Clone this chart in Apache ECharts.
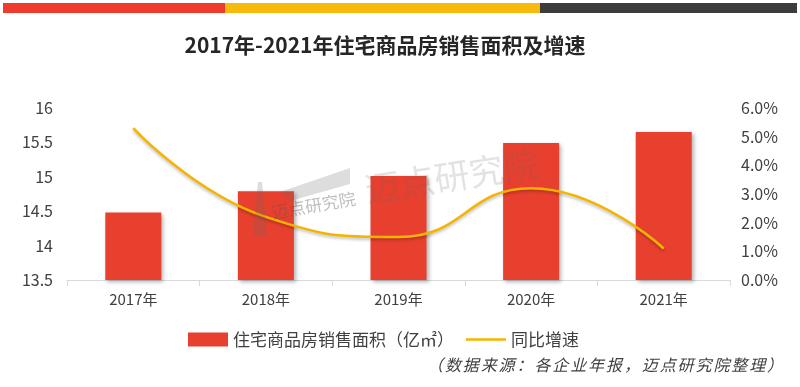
<!DOCTYPE html>
<html><head><meta charset="utf-8">
<script src="https://cdn.jsdelivr.net/npm/echarts@6/dist/echarts.min.js"></script>
<style>html,body{margin:0;padding:0;background:#fff}#c{width:800px;height:387px}</style>
</head><body><div id="c"></div>
<script>
const categories = ['2017年','2018年','2019年','2020年','2021年'];
const areaValues = [14.48, 14.79, 15.01, 15.49, 15.65];
const growthValues = [5.3, 2.2, 1.5, 3.2, 1.1];
const leftTicks = {min: 13.5, max: 16, interval: 0.5};
const rightTicks = {min: 0, max: 6, interval: 1};
const FONT = '"Noto Sans CJK SC", "Noto Sans", sans-serif';

const chart = echarts.init(document.getElementById('c'), null, {renderer: 'canvas'});
chart.setOption({
  animation: false,
  backgroundColor: '#fff',
  textStyle: {fontFamily: FONT},
  title: {
    text: '2017年-2021年住宅商品房销售面积及增速',
    left: 380, textAlign: 'center', top: 30,
    textStyle: {fontSize: 21, fontWeight: 'bold', color: '#262626', fontFamily: FONT}
  },
  graphic: [
    {type: 'rect', shape: {x: 3, y: 3, width: 222, height: 10}, style: {fill: '#EE3B2E'}},
    {type: 'rect', shape: {x: 225, y: 3, width: 315, height: 10}, style: {fill: '#F7BA0B'}},
    {type: 'rect', shape: {x: 540, y: 3, width: 257, height: 10}, style: {fill: '#3C3C3C'}},
    {type: 'polygon', z: 100, shape: {points: [[280, 192], [350, 168], [350, 184], [290, 201]]}, style: {fill: 'rgba(100,100,100,0.22)'}},
    {type: 'polygon', z: 100, shape: {points: [[258, 182], [262, 182], [267, 236], [253, 236]]}, style: {fill: 'rgba(100,100,100,0.22)'}},
    {type: 'text', z: 100, x: 273, y: 221, rotation: 0.17, style: {text: '迈点研究院', font: '17px ' + FONT, fill: 'rgba(90,90,90,0.4)', textVerticalAlign: 'bottom'}},
    {type: 'text', z: 100, x: 368, y: 207, rotation: 0.155, style: {text: '迈点研究院', font: '35px ' + FONT, fill: 'rgba(100,100,100,0.18)', textVerticalAlign: 'bottom'}}
  ],
  legend: {
    left: 183, top: 326, itemGap: 12,
    itemWidth: 40, itemHeight: 14,
    textStyle: {fontSize: 17, color: '#404040', fontFamily: FONT},
    data: [
      {name: '住宅商品房销售面积（亿㎡）', icon: 'rect'},
      {name: '同比增速', icon: 'path://M0,0L40,0L40,2.5L0,2.5Z'}
    ]
  },
  grid: {left: 67, right: 70, top: 108, bottom: 107},
  xAxis: {
    type: 'category', data: categories,
    axisLine: {lineStyle: {color: '#d9d9d9', width: 1}},
    axisTick: {show: true, alignWithLabel: false, length: 6, lineStyle: {color: '#d9d9d9'}},
    axisLabel: {fontSize: 15, color: '#404040', margin: 12, fontFamily: FONT}
  },
  yAxis: [
    {
      type: 'value', min: leftTicks.min, max: leftTicks.max, interval: leftTicks.interval,
      splitLine: {show: false}, axisLine: {show: false}, axisTick: {show: false},
      axisLabel: {fontSize: 16, color: '#404040', margin: 14, fontFamily: FONT}
    },
    {
      type: 'value', min: rightTicks.min, max: rightTicks.max, interval: rightTicks.interval,
      splitLine: {show: false}, axisLine: {show: false}, axisTick: {show: false},
      axisLabel: {fontSize: 16, color: '#404040', margin: 11, fontFamily: FONT,
        formatter: v => v.toFixed(1) + '%'}
    }
  ],
  series: [
    {
      name: '住宅商品房销售面积（亿㎡）', type: 'bar', data: areaValues, barWidth: 56, z: 2,
      itemStyle: {color: '#E8402F', shadowColor: 'rgba(0,0,0,0.3)', shadowBlur: 4, shadowOffsetX: 2, shadowOffsetY: 2}
    },
    {
      name: '同比增速', type: 'line', yAxisIndex: 1, data: growthValues, smooth: 0.5,
      symbol: 'none', z: 5,
      lineStyle: {color: '#F5B400', width: 2.5, shadowColor: 'rgba(0,0,0,0.25)', shadowBlur: 3, shadowOffsetY: 2},
      itemStyle: {color: '#F5B400'}
    }
  ]
});
</script>
<div style="position:absolute;left:0;top:0;width:800px;height:387px;pointer-events:none">
  <div style="position:absolute;right:15px;top:352px;font:italic 16px 'Noto Sans CJK SC',sans-serif;letter-spacing:1.9px;color:#404040">（数据来源：各企业年报，迈点研究院整理）</div>
</div>
</body></html>
